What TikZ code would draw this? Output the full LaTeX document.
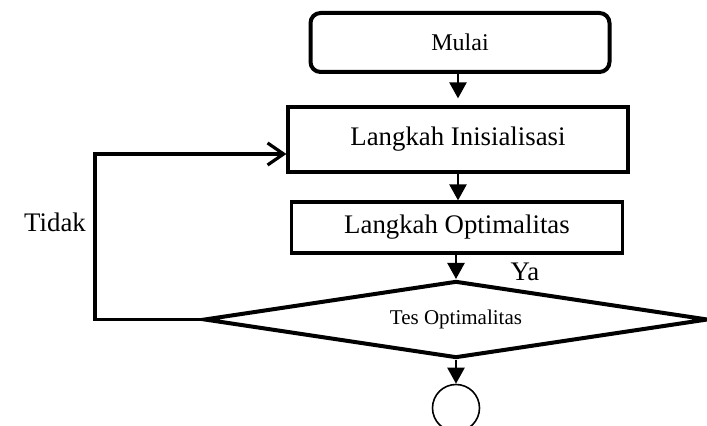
\documentclass[tikz,border=0pt]{standalone}
\usepackage{fontspec}
\setmainfont{Liberation Serif}
\usetikzlibrary{arrows.meta,shapes.geometric}

\begin{document}
\begin{tikzpicture}[x=0.5pt,y=-0.5pt,
  box/.style={draw,line width=1.6pt,inner sep=0pt,font=\fontsize{13.4}{16}\selectfont},
  flow/.style={line width=1.2pt,-{Triangle[length=8pt,width=8.5pt]}},
  lbl/.style={font=\fontsize{13.4}{16}\selectfont}]
\useasboundingbox (0,0) rectangle (707,426);
\node[draw,line width=2pt,rounded corners=5pt,minimum width=149.5pt,minimum height=29.5pt,
  font=\fontsize{12}{14}\selectfont] (mulai) at (460,42.5) {Mulai};
\node[box,minimum width=170pt,minimum height=32.5pt] (init) at (458,139.5) {Langkah Inisialisasi};
\node[box,minimum width=165.5pt,minimum height=25.5pt] (optim) at (457,227.5) {Langkah Optimalitas};
\node[diamond,draw,line width=2pt,aspect=6,inner sep=0pt,minimum width=252pt,minimum height=38.5pt,
  font=\fontsize{10.5}{12}\selectfont] (tes) at (456,319.5) {Tes Optimalitas};
\node[circle,draw,line width=0.8pt,minimum size=23.5pt] (selesai) at (456,408) {};
\node[lbl] (tidak) at (55,222) {Tidak};
\node[lbl] (ya) at (525,272) {Ya};
\coordinate (back) at (95,154);
% alur utama
\draw[flow] (mulai.south -| init.north) -- ([yshift=3.5pt]init.north);
\draw[flow] (init.south) -- (init.south |- optim.north);
\draw[flow] (optim.south -| tes.north) -- (tes.north);
\draw[flow] (tes.south) -- (selesai.north);
% kembali
\draw[line width=1.6pt,-{Straight Barb[length=8pt,width=11pt]}] (tes.west) -| (back) -- (back -| init.west);
\end{tikzpicture}
\end{document}
